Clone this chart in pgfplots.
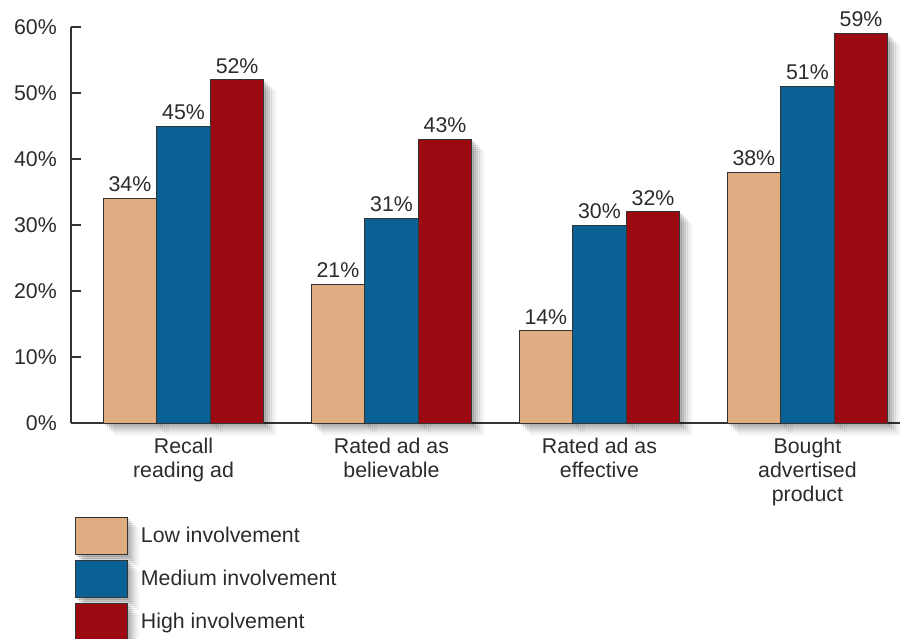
\documentclass[border=0pt]{standalone}
\usepackage{fontspec}
\setmainfont{Liberation Sans}
\usepackage{pgfplots}
\pgfplotsset{compat=1.18}
\usetikzlibrary{shadows}
\definecolor{lowc}{HTML}{E0AC82}
\definecolor{medc}{HTML}{0A6194}
\definecolor{highc}{HTML}{9B0A10}
\definecolor{linec}{HTML}{333333}
\definecolor{txtc}{HTML}{2B2B2B}
\tikzset{softshadow/.style={
  drop shadow={shadow xshift=1.5pt, shadow yshift=-1.5pt, opacity=0.09, fill=black},
  drop shadow={shadow xshift=3pt, shadow yshift=-3pt, opacity=0.08, fill=black},
  drop shadow={shadow xshift=4.5pt, shadow yshift=-4.5pt, opacity=0.07, fill=black},
  drop shadow={shadow xshift=6pt, shadow yshift=-6pt, opacity=0.05, fill=black},
  drop shadow={shadow xshift=7.5pt, shadow yshift=-7.5pt, opacity=0.04, fill=black},
  drop shadow={shadow xshift=9pt, shadow yshift=-9pt, opacity=0.025, fill=black}}}
\newcommand{\lbl}{\fontsize{16}{18}\selectfont}
\begin{document}
\begin{tikzpicture}
\begin{axis}[
  scale only axis, width=621.75pt, height=297pt,
  xmin=-0.541, xmax=3.445, ymin=0, ymax=60,
  clip=false,
  axis lines*=left,
  axis line style={linec, line width=0.9pt},
  ybar=0pt, bar width=40.2pt,
  xtick={0,1,2,3},
  xticklabels={Recall\\reading ad, Rated ad as\\believable, Rated ad as\\effective, Bought\\advertised\\product},
  xtick style={draw=none},
  ytick={0,10,...,60},
  ytick style={linec, line width=0.9pt},
  tick align=inside, major tick length=7.5pt,
  /pgf/number format/assume math mode=true,
  yticklabel={\pgfmathprintnumber{\tick}\%},
  xticklabel style={align=center, inner sep=0pt, yshift=-11.25pt, font=\lbl, text=txtc},
  yticklabel style={inner sep=0pt, xshift=-10.5pt, font=\lbl, text=txtc},
  nodes near coords={\pgfmathprintnumber{\pgfplotspointmeta}\%},
  nodes near coords style={font=\lbl, text=txtc, anchor=south, inner sep=0pt, yshift=4.5pt},
  every axis plot/.append style={draw=linec, line width=0.7pt, softshadow},
  legend image code/.code={\draw[#1, draw=linec] (0pt,-14pt) rectangle (39pt,14pt);},
  legend cell align=left,
  legend style={at={(0,0)}, anchor=north west, xshift=3pt, yshift=-70.5pt,
    draw=none, fill=none, inner sep=0pt, outer sep=0pt,
    row sep=3.4pt, column sep=9.75pt,
    nodes={inner sep=0pt, text=txtc}, font=\lbl},
]
\addplot[fill=lowc] coordinates {(0,34) (1,21) (2,14) (3,38)};
\addplot[fill=medc] coordinates {(0,45) (1,31) (2,30) (3,51)};
\addplot[fill=highc] coordinates {(0,52) (1,43) (2,32) (3,59)};
\legend{Low involvement, Medium involvement, High involvement}
\end{axis}
\pgfresetboundingbox
\path (-53.25pt,-162pt) rectangle (621.75pt,317.25pt);
\end{tikzpicture}
\end{document}
